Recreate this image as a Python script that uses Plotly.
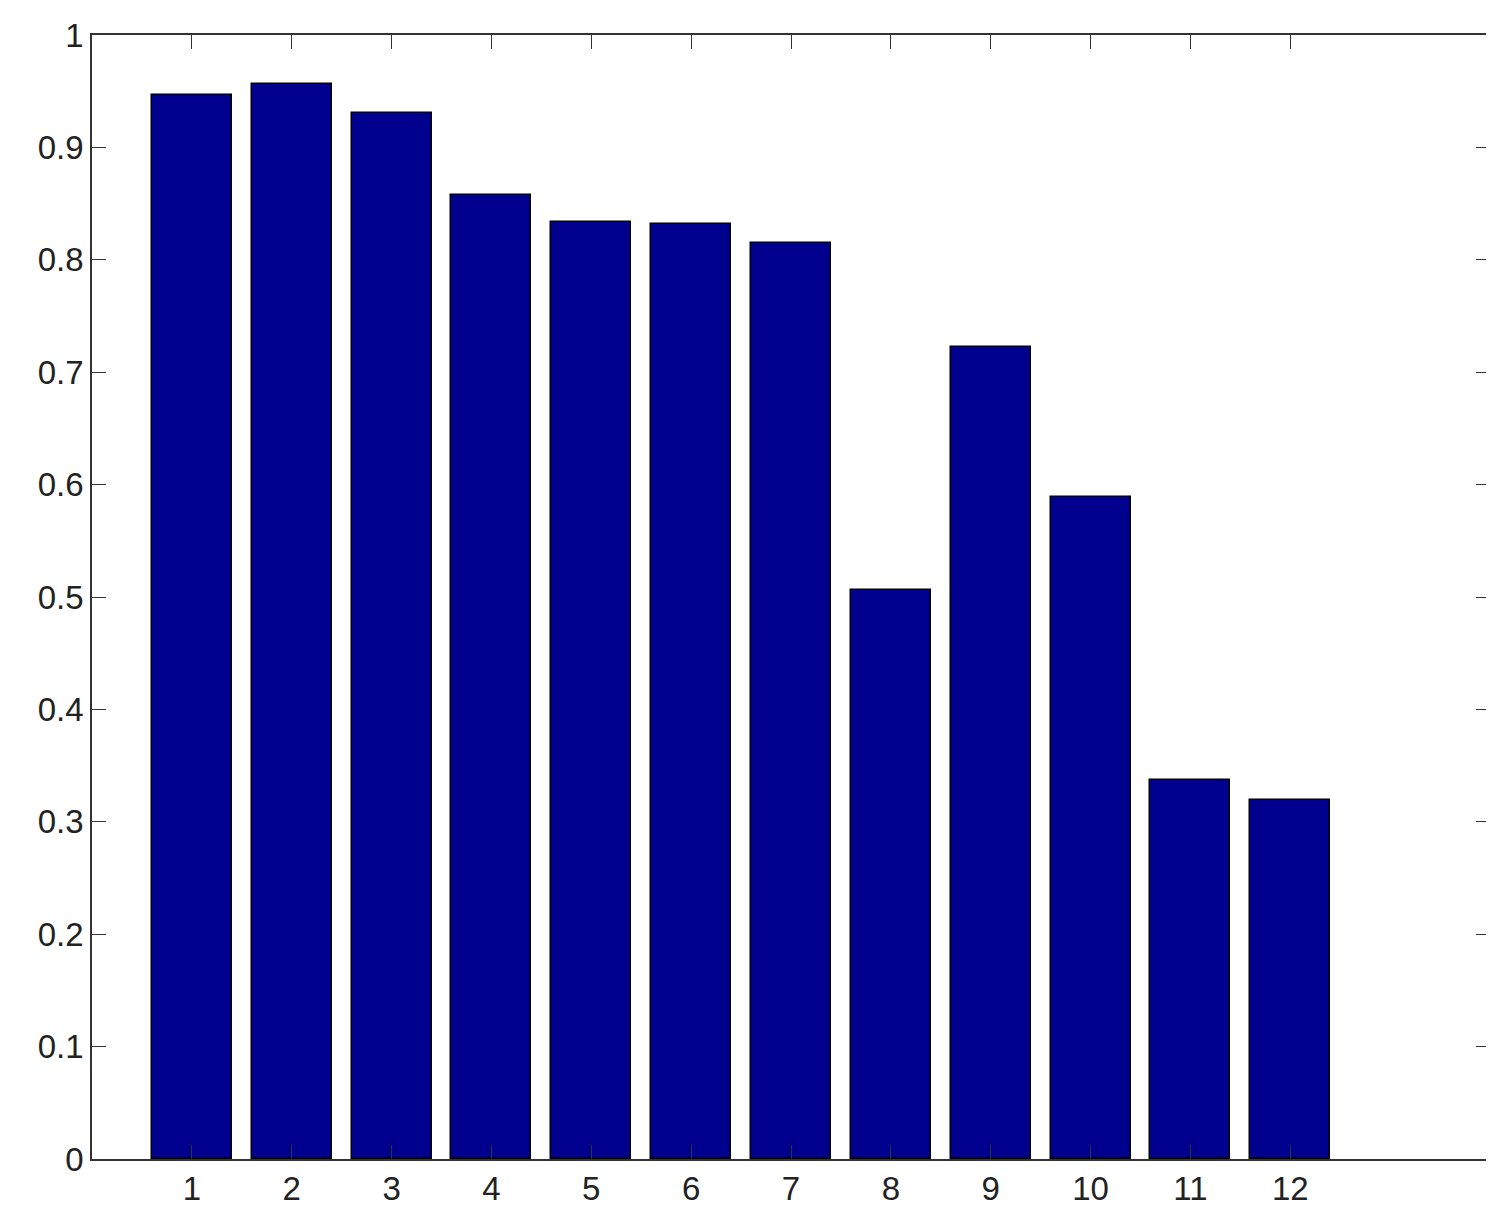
import plotly.graph_objects as go

categories = [1, 2, 3, 4, 5, 6, 7, 8, 9, 10, 11, 12]
values = [0.947, 0.956, 0.931, 0.858, 0.834, 0.832, 0.815, 0.506, 0.722, 0.589, 0.337, 0.319]
y_ticks = [0, 0.1, 0.2, 0.3, 0.4, 0.5, 0.6, 0.7, 0.8, 0.9, 1]
y_labels = ["0", "0.1", "0.2", "0.3", "0.4", "0.5", "0.6", "0.7", "0.8", "0.9", "1"]

fig = go.Figure(go.Bar(
    x=categories, y=values, width=0.8,
    marker=dict(color="#00008F", line=dict(color="black", width=1.5)),
))
axis_common = dict(showline=True, linecolor="#333", linewidth=1.5, mirror="ticks",
                   ticks="inside", ticklen=14, tickcolor="#333", showgrid=False,
                   zeroline=False, automargin=False,
                   tickfont=dict(family="Liberation Sans, Arial", size=33, color="#222"))
fig.update_xaxes(range=[0, 14], tickvals=categories, ticktext=[str(c) for c in categories], **axis_common)
fig.update_yaxes(range=[0, 1], tickvals=y_ticks, ticktext=y_labels, **axis_common)
fig.update_layout(width=1494, height=1220, plot_bgcolor="white", paper_bgcolor="white",
                  margin=dict(l=84, r=12, t=27, b=69), showlegend=False, bargap=0)
fig.write_html("out.html")
